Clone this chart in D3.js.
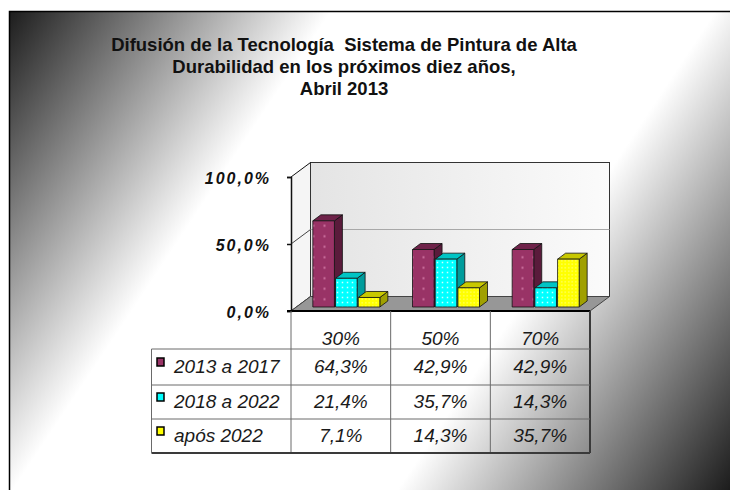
<!DOCTYPE html>
<html>
<head>
<meta charset="utf-8">
<script src="https://cdn.jsdelivr.net/npm/d3@7"></script>
<style>
  html, body { margin: 0; background: #fff; overflow: hidden; }
  svg { display: block; }
</style>
</head>
<body>
<div id="chart"></div>
<script>
// Data
const titleLines = [
  'Difusión de la Tecnología  Sistema de Pintura de Alta',
  'Durabilidad en los próximos diez años,',
  'Abril 2013'
];
const categories = ['30%', '50%', '70%'];
const seriesNames = ['2013 a 2017', '2018 a 2022', 'após 2022'];
const values2013 = [64.3, 42.9, 42.9];
const values2018 = [21.4, 35.7, 14.3];
const valuesApos = [7.1, 14.3, 35.7];
const yTicks = [0, 50, 100];

const seriesValues = [values2013, values2018, valuesApos];
const front = ['#993366', '#00ffff', '#ffff00'];
const topC = ['#6e2249', '#00c4c4', '#c8c800'];
const sideC = ['#5a1b3b', '#009c9c', '#a0a000'];
const dotC = ['#d780ac', '#ffffff', '#ffffff'];

const width = 730;
const height = 490;

const comma = v => d3.format('.1f')(v).replace('.', ',');

const svg = d3.select('#chart').append('svg')
  .attr('width', width)
  .attr('height', height);

const defs = svg.append('defs');

// background gradient: dark corner, white band, dark corner
const bg = defs.append('linearGradient')
  .attr('id', 'bg')
  .attr('gradientUnits', 'userSpaceOnUse')
  .attr('x1', 9).attr('y1', 11).attr('x2', 730).attr('y2', 490);
bg.append('stop').attr('offset', 0).attr('stop-color', '#1c1c1c');
bg.append('stop').attr('offset', 0.31).attr('stop-color', '#ffffff');
bg.append('stop').attr('offset', 0.68).attr('stop-color', '#ffffff');
bg.append('stop').attr('offset', 1).attr('stop-color', '#1c1c1c');

const wall = defs.append('linearGradient').attr('id', 'wall');
wall.append('stop').attr('offset', 0).attr('stop-color', '#e4e4e4');
wall.append('stop').attr('offset', 1).attr('stop-color', '#fbfbfb');

// dotted fills for the bars
const pat = [[11, 10.5, 2], [5, 5, 1.5], [3.5, 3.5, 1]];
pat.forEach((p, i) => {
  const pt = defs.append('pattern')
    .attr('id', 'dots' + i)
    .attr('patternUnits', 'userSpaceOnUse')
    .attr('width', p[0]).attr('height', p[1]);
  pt.append('rect').attr('width', p[0]).attr('height', p[1]).attr('fill', front[i]);
  pt.append('rect')
    .attr('x', p[0] / 2 - p[2] / 2).attr('y', p[1] / 2 - p[2] / 2)
    .attr('width', p[2]).attr('height', p[2])
    .attr('fill', dotC[i]).attr('opacity', 0.8);
});

// frame
svg.append('rect')
  .attr('x', 9.5).attr('y', 11.5)
  .attr('width', width).attr('height', height)
  .attr('fill', 'url(#bg)')
  .attr('stroke', '#000')
  .attr('stroke-width', 1.5);

// title
svg.append('text')
  .attr('x', 344).attr('y', 51)
  .attr('text-anchor', 'middle')
  .style('font-family', '"Liberation Sans", Arial, sans-serif')
  .style('font-size', '18.5px')
  .style('font-weight', 'bold')
  .attr('fill', '#111')
  .selectAll('tspan')
  .data(titleLines)
  .enter()
  .append('tspan')
  .attr('x', 344)
  .attr('dy', (d, i) => i === 0 ? 0 : 22)
  .style('white-space', 'pre')
  .text(d => d);

// scales
const x = d3.scaleBand().domain(categories).range([291, 590]);
const y = d3.scaleLinear().domain([0, 100]).range([311, 177]);
const depthX = 19.5, depthY = -14.5; // 3D depth of plot
const barDX = 8, barDY = -6;         // depth of each bar
const offX = 5.5, offY = -4;         // bars sit a little behind the front edge
const groupW = 67;
const xs = d3.scaleBand().domain(seriesNames).range([0, groupW]).paddingInner(0.05);

const plot = svg.append('g');
const x0 = x.range()[0], x1 = x.range()[1];
const yTop = y(100), yBot = y(0);

// left wall
plot.append('polygon')
  .attr('points', [[x0, yTop], [x0 + depthX, yTop + depthY], [x0 + depthX, yBot + depthY], [x0, yBot]].join(' '))
  .attr('fill', '#eeeeee').attr('opacity', 0.6);

// back wall
plot.append('rect')
  .attr('x', x0 + depthX).attr('y', yTop + depthY)
  .attr('width', x1 - x0).attr('height', yBot - yTop)
  .attr('fill', 'url(#wall)')
  .attr('stroke', '#333').attr('stroke-width', 1);

// gridlines on back wall (50%)
plot.selectAll('.grid')
  .data(yTicks.filter(d => d > 0 && d < 100))
  .enter()
  .append('line')
  .attr('x1', x0 + depthX).attr('x2', x1 + depthX)
  .attr('y1', d => y(d) + depthY).attr('y2', d => y(d) + depthY)
  .attr('stroke', '#a8a8a8');

// slanted tick lines on the left wall
plot.selectAll('.slant')
  .data(yTicks)
  .enter()
  .append('line')
  .attr('x1', x0).attr('y1', d => y(d))
  .attr('x2', x0 + depthX).attr('y2', d => y(d) + depthY)
  .attr('stroke', d => d === 50 ? '#444' : '#111');

// floor
plot.append('polygon')
  .attr('points', [[x0, yBot], [x0 + depthX, yBot + depthY], [x1 + depthX, yBot + depthY], [x1, yBot]].join(' '))
  .attr('fill', '#979797')
  .attr('stroke', '#444').attr('stroke-width', 1);

// bars
categories.forEach((c, ci) => {
  const gx = x(c) + (x.bandwidth() - groupW) / 2 + offX;
  seriesNames.forEach((s, si) => {
    const v = seriesValues[si][ci];
    const bx = gx + xs(s);
    const bw = xs.bandwidth();
    const bt = y(v) + offY;
    const bb = y(0) + offY;
    const g = plot.append('g').attr('stroke', '#111').attr('stroke-width', 0.8).attr('stroke-linejoin', 'round');
    g.append('polygon')
      .attr('points', [[bx + bw, bt], [bx + bw + barDX, bt + barDY], [bx + bw + barDX, bb + barDY], [bx + bw, bb]].join(' '))
      .attr('fill', sideC[si]);
    g.append('polygon')
      .attr('points', [[bx, bt], [bx + barDX, bt + barDY], [bx + bw + barDX, bt + barDY], [bx + bw, bt]].join(' '))
      .attr('fill', topC[si]);
    g.append('rect')
      .attr('x', bx).attr('y', bt)
      .attr('width', bw).attr('height', bb - bt)
      .attr('fill', 'url(#dots' + si + ')');
  });
});

// value axis
const yAxis = d3.axisLeft(y).tickValues(yTicks).tickSize(4).tickFormat(d => comma(d) + '%');
const ax = svg.append('g')
  .attr('transform', `translate(${x0},0)`)
  .call(yAxis);
ax.select('.domain').attr('stroke', '#111').attr('stroke-width', 1.5);
ax.selectAll('.tick line').attr('stroke', '#111').attr('stroke-width', 1.5);
ax.selectAll('.tick text')
  .attr('x', -20)
  .attr('dy', '0.4em')
  .style('font-family', '"Liberation Sans", Arial, sans-serif')
  .style('font-size', '16px')
  .style('font-weight', 'bold')
  .style('font-style', 'italic')
  .style('letter-spacing', '2px')
  .attr('fill', '#111');

// floor front edge / category axis
svg.append('line')
  .attr('x1', x0 - 4).attr('x2', x1)
  .attr('y1', yBot).attr('y2', yBot)
  .attr('stroke', '#000').attr('stroke-width', 2);

// data table
const rowY = [311, 349, 385, 419, 453];
const tableLeft = 151.5;
const table = svg.append('g');
const txt = sel => sel
  .style('font-family', '"Liberation Sans", Arial, sans-serif')
  .style('font-size', '19px')
  .style('font-style', 'italic')
  .attr('fill', '#1a1a1a');

// grid
const colX = categories.map(c => x(c)).concat([x1]);
colX.forEach((cx, i) => {
  table.append('line')
    .attr('x1', cx).attr('x2', cx)
    .attr('y1', rowY[0]).attr('y2', rowY[4])
    .attr('stroke', i === colX.length - 1 ? '#3a3a3a' : '#6a6a6a')
    .attr('stroke-width', i === colX.length - 1 ? 2 : 1);
});
rowY.slice(1).forEach((ry, i) => {
  const last = i === rowY.length - 2;
  table.append('line')
    .attr('x1', tableLeft).attr('x2', x1)
    .attr('y1', ry).attr('y2', ry)
    .attr('stroke', last ? '#3a3a3a' : '#6a6a6a')
    .attr('stroke-width', last ? 2 : 1);
});
table.append('line')
  .attr('x1', tableLeft).attr('x2', tableLeft)
  .attr('y1', rowY[1]).attr('y2', rowY[4])
  .attr('stroke', '#6a6a6a');

// header labels
table.selectAll('.head')
  .data(categories)
  .enter()
  .append('text')
  .attr('x', d => x(d) + x.bandwidth() / 2)
  .attr('y', 345)
  .attr('text-anchor', 'middle')
  .call(txt)
  .text(d => d);

// series rows
seriesNames.forEach((s, si) => {
  const top = rowY[si + 1];
  const mid = (top + rowY[si + 2]) / 2;
  table.append('rect')
    .attr('x', 157).attr('y', mid - 9)
    .attr('width', 7).attr('height', 8)
    .attr('fill', front[si])
    .attr('stroke', '#000').attr('stroke-width', 1.5);
  table.append('text')
    .attr('x', 174).attr('y', mid + 6)
    .call(txt)
    .text(s);
  table.selectAll('.v' + si)
    .data(seriesValues[si])
    .enter()
    .append('text')
    .attr('x', (d, i) => x(categories[i]) + x.bandwidth() / 2)
    .attr('y', mid + 6)
    .attr('text-anchor', 'middle')
    .call(txt)
    .text(d => comma(d) + '%');
});
</script>
</body>
</html>
